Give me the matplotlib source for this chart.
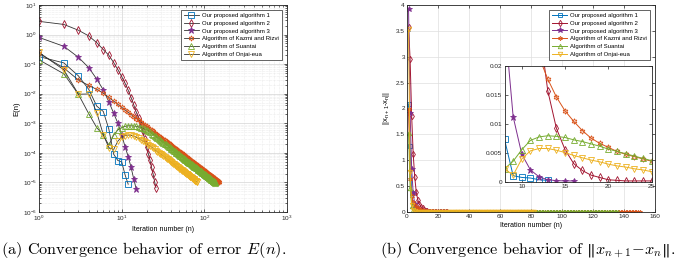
import numpy as np
import matplotlib
matplotlib.use('Agg')
import matplotlib.pyplot as plt
from matplotlib.ticker import FuncFormatter, LogLocator, MultipleLocator

plt.rcParams['font.family'] = ['Liberation Sans', 'DejaVu Sans']
plt.rcParams['mathtext.default'] = 'regular'

labels = ['Our proposed algorithm 1', 'Our proposed algorithm 2', 'Our proposed algorithm 3',
          'Algorithm of Kazmi and Rizvi', 'Algorithm of Suantai', 'Algorithm of Onjai-eua']
colors = ['#0072BD', '#A2142F', '#7E2F8E', '#D95319', '#77AC30', '#EDB120']
markers = ['s', 'd', '*', (6, 1, 0), '^', 'v']

# ---- panel (a): E(n), one value per iteration n = 1, 2, ...
err_alg1 = [0.18, 0.11, 0.040, 0.014, 0.0038, 0.0025, 6.3e-4, 9.0e-5, 5.5e-5, 5.0e-5, 1.8e-5, 8.7e-6]
err_alg2 = [2.8, 2.2, 1.4, 0.9, 0.53, 0.31, 0.2, 0.113, 0.065, 0.038, 0.0226, 0.0131, 0.0074,
            0.0042, 0.0024, 0.0015, 8.6e-4, 5.3e-4, 2.9e-4, 1.6e-4, 9.5e-5, 5.6e-5, 3.2e-5,
            1.95e-5, 1.07e-5, 6.6e-6]
err_alg3 = [0.80, 0.40, 0.17, 0.076, 0.031, 0.0134, 0.0053, 0.0022, 0.0010, 4.1e-4, 1.6e-4,
            7.5e-5, 3.2e-5, 1.3e-5, 6.0e-6]
err_kazmi = [0.23, 0.074, 0.029, 0.019, 0.014, 0.0104, 7.46e-3, 5.60e-3, 4.35e-3, 3.47e-3,
             2.82e-3, 2.34e-3, 1.97e-3, 1.68e-3, 1.45e-3, 1.26e-3, 1.11e-3, 9.8e-4, 8.7e-4, 7.8e-4,
             7.03e-4, 6.37e-4, 5.78e-4, 5.28e-4, 4.84e-4, 4.45e-4, 4.09e-4, 3.79e-4, 3.52e-4, 3.27e-4,
             3.04e-4, 2.84e-4, 2.66e-4, 2.49e-4, 2.34e-4, 2.21e-4, 2.08e-4, 1.96e-4, 1.86e-4, 1.76e-4,
             1.67e-4, 1.58e-4, 1.51e-4, 1.43e-4, 1.37e-4, 1.30e-4, 1.24e-4, 1.19e-4, 1.14e-4, 1.09e-4,
             1.04e-4, 1.00e-4, 9.6e-5, 9.2e-5, 8.9e-5, 8.5e-5, 8.2e-5, 7.9e-5, 7.6e-5, 7.4e-5,
             7.1e-5, 6.9e-5, 6.6e-5, 6.4e-5, 6.2e-5, 6.0e-5, 5.8e-5, 5.6e-5, 5.5e-5, 5.3e-5,
             5.1e-5, 5.0e-5, 4.8e-5, 4.7e-5, 4.6e-5, 4.4e-5, 4.3e-5, 4.2e-5, 4.1e-5, 4.0e-5,
             3.9e-5, 3.8e-5, 3.7e-5, 3.6e-5, 3.5e-5, 3.4e-5, 3.3e-5, 3.2e-5, 3.15e-5, 3.08e-5,
             3.01e-5, 2.94e-5, 2.87e-5, 2.81e-5, 2.74e-5, 2.68e-5, 2.62e-5, 2.56e-5, 2.51e-5, 2.45e-5,
             2.40e-5, 2.35e-5, 2.30e-5, 2.25e-5, 2.21e-5, 2.17e-5, 2.12e-5, 2.08e-5, 2.04e-5, 2.00e-5,
             1.96e-5, 1.92e-5, 1.89e-5, 1.85e-5, 1.82e-5, 1.78e-5, 1.75e-5, 1.72e-5, 1.69e-5, 1.66e-5,
             1.63e-5, 1.60e-5, 1.57e-5, 1.55e-5, 1.52e-5, 1.49e-5, 1.47e-5, 1.45e-5, 1.42e-5, 1.40e-5,
             1.37e-5, 1.35e-5, 1.33e-5, 1.31e-5, 1.29e-5, 1.27e-5, 1.25e-5, 1.23e-5, 1.21e-5, 1.19e-5,
             1.17e-5, 1.16e-5, 1.14e-5, 1.12e-5, 1.10e-5, 1.09e-5, 1.07e-5, 1.06e-5, 1.04e-5, 1.03e-5]
err_suantai = [0.14, 0.047, 0.0095, 0.0021, 7.1e-4, 4.0e-4, 1.8e-4, 4.0e-4, 6.0e-4, 7.2e-4,
               7.9e-4, 8.2e-4, 8.2e-4, 8.1e-4, 7.9e-4, 7.6e-4, 7.2e-4, 6.9e-4, 6.5e-4, 6.1e-4,
               5.5e-4, 5.0e-4, 4.5e-4, 4.1e-4, 3.8e-4, 3.5e-4, 3.2e-4, 3.0e-4, 2.7e-4, 2.55e-4,
               2.37e-4, 2.22e-4, 2.07e-4, 1.94e-4, 1.83e-4, 1.72e-4, 1.62e-4, 1.53e-4, 1.45e-4, 1.37e-4,
               1.30e-4, 1.23e-4, 1.18e-4, 1.12e-4, 1.07e-4, 1.01e-4, 9.7e-5, 9.3e-5, 8.9e-5, 8.5e-5,
               8.1e-5, 7.8e-5, 7.5e-5, 7.2e-5, 6.9e-5, 6.6e-5, 6.4e-5, 6.2e-5, 5.9e-5, 5.8e-5,
               5.5e-5, 5.4e-5, 5.1e-5, 5.0e-5, 4.8e-5, 4.7e-5, 4.5e-5, 4.4e-5, 4.3e-5, 4.1e-5,
               4.0e-5, 3.9e-5, 3.7e-5, 3.7e-5, 3.6e-5, 3.4e-5, 3.4e-5, 3.3e-5, 3.2e-5, 3.1e-5,
               3.0e-5, 3.0e-5, 2.9e-5, 2.8e-5, 2.7e-5, 2.65e-5, 2.6e-5, 2.5e-5, 2.46e-5, 2.40e-5,
               2.35e-5, 2.29e-5, 2.24e-5, 2.19e-5, 2.14e-5, 2.09e-5, 2.04e-5, 2.00e-5, 1.96e-5, 1.91e-5,
               1.87e-5, 1.83e-5, 1.79e-5, 1.76e-5, 1.72e-5, 1.69e-5, 1.65e-5, 1.62e-5, 1.59e-5, 1.56e-5,
               1.53e-5, 1.50e-5, 1.47e-5, 1.44e-5, 1.42e-5, 1.39e-5, 1.37e-5, 1.34e-5, 1.32e-5, 1.29e-5,
               1.27e-5, 1.25e-5, 1.22e-5, 1.21e-5, 1.19e-5, 1.16e-5, 1.15e-5, 1.13e-5, 1.11e-5, 1.09e-5,
               1.07e-5, 1.05e-5, 1.04e-5, 1.02e-5, 1.01e-5, 9.9e-6]
err_onjai = [0.25, 0.064, 0.0096, 0.0098, 0.0023, 4.1e-4, 1.5e-4, 1.3e-4, 2.5e-4, 3.4e-4,
             3.8e-4, 4.0e-4, 3.9e-4, 3.7e-4, 3.4e-4, 3.1e-4, 2.8e-4, 2.5e-4, 2.3e-4, 2.1e-4,
             1.90e-4, 1.72e-4, 1.56e-4, 1.43e-4, 1.31e-4, 1.20e-4, 1.10e-4, 1.02e-4, 9.5e-5, 8.8e-5,
             8.2e-5, 7.7e-5, 7.2e-5, 6.7e-5, 6.3e-5, 6.0e-5, 5.6e-5, 5.3e-5, 5.0e-5, 4.75e-5,
             4.5e-5, 4.3e-5, 4.1e-5, 3.9e-5, 3.7e-5, 3.5e-5, 3.35e-5, 3.2e-5, 3.1e-5, 2.95e-5,
             2.8e-5, 2.7e-5, 2.6e-5, 2.5e-5, 2.4e-5, 2.3e-5, 2.2e-5, 2.13e-5, 2.05e-5, 2.0e-5,
             1.92e-5, 1.86e-5, 1.78e-5, 1.73e-5, 1.67e-5, 1.62e-5, 1.57e-5, 1.51e-5, 1.49e-5, 1.43e-5,
             1.38e-5, 1.35e-5, 1.30e-5, 1.27e-5, 1.24e-5, 1.19e-5, 1.16e-5, 1.13e-5, 1.11e-5, 1.08e-5,
             1.05e-5, 1.03e-5]

# ---- panel (b): ||x_{n+1} - x_n||
dx_alg1 = [2.09, 1.27, 0.36, 0.12, 0.05, 0.022, 0.012, 0.0073, 0.001, 0.0007, 0.0006, 0.0003, 0.0002]
dx_alg2 = [3.58, 2.95, 1.86, 1.12, 0.67, 0.38, 0.23, 0.15, 0.105, 0.068, 0.043, 0.027, 0.0157,
           0.0092, 0.0055, 0.0031, 0.0019, 0.0011, 0.0007, 0.0003, 0.0002, 0.0001, 0.0001, 0.0001,
           0.0001, 0.00005]
dx_alg3 = [3.92, 1.92, 0.84, 0.36, 0.15, 0.08, 0.045, 0.028, 0.0112, 0.0047, 0.002, 0.0008,
           0.0003, 0.00015, 0.0001, 0.0001]
dx_kazmi = [1.99, 0.64, 0.30, 0.19, 0.13, 0.095, 0.071, 0.054, 0.042, 0.033,
            0.027, 0.0215, 0.0177, 0.0146, 0.0122, 0.0104, 0.0088, 0.0075, 0.0066, 0.0059,
            0.0052, 0.0047, 0.0043, 0.0039, 0.0035, 3.2e-3, 3.0e-3, 2.8e-3, 2.6e-3, 2.4e-3,
            2.2e-3, 2.1e-3, 1.9e-3, 1.8e-3, 1.7e-3, 1.6e-3, 1.5e-3, 1.4e-3, 1.4e-3, 1.3e-3,
            1.2e-3, 1.15e-3, 1.1e-3, 1.04e-3, 1.0e-3, 9.5e-4, 9.1e-4, 8.7e-4, 8.3e-4, 8.0e-4,
            7.6e-4, 7.3e-4, 7.0e-4, 6.7e-4, 6.5e-4, 6.2e-4, 6.0e-4, 5.8e-4, 5.5e-4, 5.4e-4,
            5.2e-4, 5.0e-4, 4.8e-4, 4.7e-4, 4.5e-4, 4.4e-4, 4.2e-4, 4.1e-4, 4.0e-4, 3.9e-4,
            3.7e-4, 3.65e-4, 3.5e-4, 3.4e-4, 3.35e-4, 3.2e-4, 3.1e-4, 3.07e-4, 3.0e-4, 2.9e-4,
            2.85e-4, 2.8e-4, 2.7e-4, 2.6e-4, 2.55e-4, 2.5e-4, 2.4e-4, 2.35e-4, 2.3e-4, 2.25e-4,
            2.2e-4, 2.15e-4, 2.1e-4, 2.05e-4, 2.0e-4, 1.96e-4, 1.91e-4, 1.87e-4, 1.83e-4, 1.79e-4,
            1.75e-4, 1.72e-4, 1.68e-4, 1.64e-4, 1.61e-4, 1.58e-4, 1.55e-4, 1.52e-4, 1.49e-4, 1.46e-4,
            1.43e-4, 1.40e-4, 1.38e-4, 1.35e-4, 1.33e-4, 1.30e-4, 1.28e-4, 1.26e-4, 1.23e-4, 1.21e-4,
            1.19e-4, 1.17e-4, 1.15e-4, 1.13e-4, 1.11e-4, 1.09e-4, 1.07e-4, 1.06e-4, 1.04e-4, 1.02e-4,
            1.0e-4, 9.9e-5, 9.7e-5, 9.6e-5, 9.4e-5, 9.3e-5, 9.1e-5, 9.0e-5, 8.8e-5, 8.7e-5,
            8.5e-5, 8.5e-5, 8.3e-5, 8.2e-5, 8.0e-5, 8.0e-5, 7.8e-5, 7.7e-5, 7.6e-5, 7.5e-5]
dx_suantai = [1.53, 0.47, 0.12, 0.035, 0.011, 0.004, 0.0018, 0.0022, 0.0035, 0.0055,
              0.0071, 0.0077, 0.0079, 0.0078, 0.0076, 0.0072, 0.0069, 0.0065, 0.0061, 0.0056,
              0.0052, 0.0048, 0.0044, 0.0040, 0.0036, 3.3e-3, 3.0e-3, 2.85e-3, 2.6e-3, 2.4e-3,
              2.25e-3, 2.1e-3, 2.0e-3, 1.85e-3, 1.74e-3, 1.63e-3, 1.54e-3, 1.45e-3, 1.38e-3, 1.3e-3,
              1.24e-3, 1.17e-3, 1.12e-3, 1.06e-3, 1.02e-3, 9.6e-4, 9.2e-4, 8.8e-4, 8.5e-4, 8.1e-4,
              7.7e-4, 7.4e-4, 7.1e-4, 6.8e-4, 6.6e-4, 6.3e-4, 6.1e-4, 5.9e-4, 5.6e-4, 5.5e-4,
              5.2e-4, 5.1e-4, 4.8e-4, 4.75e-4, 4.6e-4, 4.5e-4, 4.3e-4, 4.2e-4, 4.1e-4, 3.9e-4,
              3.8e-4, 3.7e-4, 3.5e-4, 3.5e-4, 3.4e-4, 3.2e-4, 3.2e-4, 3.1e-4, 3.0e-4, 2.9e-4,
              2.85e-4, 2.85e-4, 2.75e-4, 2.65e-4, 2.55e-4, 2.5e-4, 2.5e-4, 2.4e-4, 2.3e-4, 2.3e-4,
              2.2e-4, 2.2e-4, 2.1e-4, 2.1e-4, 2.0e-4, 2.0e-4, 1.9e-4, 1.9e-4, 1.86e-4, 1.8e-4,
              1.78e-4, 1.74e-4, 1.7e-4, 1.67e-4, 1.63e-4, 1.6e-4, 1.57e-4, 1.54e-4, 1.51e-4, 1.48e-4,
              1.45e-4, 1.43e-4, 1.4e-4, 1.37e-4, 1.35e-4, 1.32e-4, 1.3e-4, 1.27e-4, 1.25e-4, 1.23e-4,
              1.21e-4, 1.19e-4, 1.16e-4, 1.15e-4, 1.13e-4, 1.1e-4, 1.09e-4, 1.07e-4, 1.05e-4, 1.04e-4,
              1.02e-4, 1.0e-4, 9.9e-5, 9.7e-5, 9.6e-5, 9.4e-5]
dx_onjai = [3.53, 0.78, 0.14, 0.04, 0.012, 0.005, 0.003, 0.0022, 0.0011, 0.0039,
            0.0053, 0.0057, 0.0057, 0.0054, 0.0050, 0.0045, 0.0041, 0.0037, 0.0034, 0.0030,
            0.0027, 0.0025, 0.0022, 0.0020, 0.0017, 1.45e-3, 1.32e-3, 1.22e-3, 1.14e-3, 1.06e-3,
            9.8e-4, 9.2e-4, 8.6e-4, 8.0e-4, 7.6e-4, 7.2e-4, 6.7e-4, 6.4e-4, 6.0e-4, 5.7e-4,
            5.4e-4, 5.2e-4, 4.9e-4, 4.7e-4, 4.4e-4, 4.2e-4, 4.0e-4, 3.8e-4, 3.7e-4, 3.5e-4,
            3.4e-4, 3.2e-4, 3.1e-4, 3.0e-4, 2.9e-4, 2.8e-4, 2.6e-4, 2.6e-4, 2.5e-4, 2.4e-4,
            2.3e-4, 2.2e-4, 2.1e-4, 2.1e-4, 2.0e-4, 1.9e-4, 1.9e-4, 1.8e-4, 1.8e-4, 1.7e-4,
            1.66e-4, 1.62e-4, 1.56e-4, 1.52e-4, 1.49e-4, 1.43e-4, 1.39e-4, 1.36e-4, 1.33e-4, 1.3e-4,
            1.26e-4, 1.24e-4]

err_series = [err_alg1, err_alg2, err_alg3, err_kazmi, err_suantai, err_onjai]
dx_series = [dx_alg1, dx_alg2, dx_alg3, dx_kazmi, dx_suantai, dx_onjai]

caption_a = r'(a) Convergence behavior of error $\mathit{E}(\mathit{n})$.'
caption_b = r'(b) Convergence behavior of $\Vert \mathit{x}_{\mathit{n}+1}\!-\!\mathit{x}_{\mathit{n}}\Vert$.'

W, H = 685, 272
fig = plt.figure(figsize=(W / 100, H / 100), dpi=100)


def px_axes(x0, y0, x1, y1):
    return fig.add_axes([x0 / W, 1 - y1 / H, (x1 - x0) / W, (y1 - y0) / H])


def style(ax, fs=4.6):
    for s in ax.spines.values():
        s.set_linewidth(0.6)
        s.set_color('#262626')
    ax.tick_params(which='both', direction='in', top=True, right=True, labelsize=fs,
                   width=0.5, pad=1.5, colors='#262626')
    ax.tick_params(which='major', length=2.2)
    ax.tick_params(which='minor', length=1.2)


def msize(m, base):
    return base + 1.0 if m == '*' else base


# ---------- (a)
ax1 = px_axes(39, 5, 287, 212)
for vals, c, m in zip(err_series, colors, markers):
    n = np.arange(1, len(vals) + 1)
    ax1.plot(n, vals, color='#333333', lw=0.6, marker=m, ms=msize(m, 3.8),
             mec=c, mfc=c if m == '*' else 'none', mew=0.6)
ax1.set_xscale('log')
ax1.set_yscale('log')
ax1.set_xlim(1, 1000)
ax1.set_ylim(1e-6, 10)
ax1.yaxis.set_major_locator(LogLocator(base=10, numticks=10))
ax1.yaxis.set_minor_locator(LogLocator(base=10, subs=np.arange(2, 10), numticks=20))
ax1.grid(True, which='major', color='#d4d4d4', lw=0.5)
ax1.grid(True, which='minor', color='#dcdcdc', lw=0.4, ls=(0, (1, 1.5)))
ax1.set_axisbelow(True)
style(ax1)
ax1.set_xlabel('Iteration number (n)', fontsize=5, labelpad=2)
ax1.set_ylabel('E(n)', fontsize=5.5, labelpad=2)
hl = [plt.Line2D([], [], color='#333333', lw=0.6, marker=m, ms=msize(m, 3.8), mec=c,
                 mfc=c if m == '*' else 'none', mew=0.6) for c, m in zip(colors, markers)]
leg = ax1.legend(hl, labels, loc='upper right', bbox_to_anchor=(0.979, 0.976), fontsize=4.3,
                 frameon=True, fancybox=False, edgecolor='#262626', framealpha=1,
                 handlelength=2.6, labelspacing=0.45, borderpad=0.45, handletextpad=0.5,
                 borderaxespad=0)
leg.get_frame().set_linewidth(0.5)

# ---------- (b)
ax2 = px_axes(407, 5, 655, 212)
for vals, c, m in zip(dx_series, colors, markers):
    n = np.arange(1, len(vals) + 1)
    ax2.plot(n, vals, color=c, lw=0.7, marker=m, ms=msize(m, 3.2),
             mec=c, mfc=c if m == '*' else 'none', mew=0.6)
ax2.set_xlim(0, 160)
ax2.set_ylim(0, 4)
ax2.xaxis.set_major_locator(MultipleLocator(20))
ax2.yaxis.set_major_locator(MultipleLocator(0.5))
ax2.yaxis.set_major_formatter(FuncFormatter(lambda v, p: f'{v:g}'))
ax2.grid(True, which='major', color='#dedede', lw=0.5)
ax2.set_axisbelow(True)
style(ax2)
ax2.set_xlabel('Iteration number (n)', fontsize=5, labelpad=2)
ax2.set_ylabel(r'$||x_{n+1}$-$x_{n}||$', fontsize=5.5, labelpad=3)
hl2 = [plt.Line2D([], [], color=c, lw=0.7, marker=m, ms=msize(m, 3.2), mec=c,
                  mfc=c if m == '*' else 'none', mew=0.6) for c, m in zip(colors, markers)]
leg2 = ax2.legend(hl2, labels, loc='upper right', bbox_to_anchor=(0.98, 0.976), fontsize=4.3,
                  frameon=True, fancybox=False, edgecolor='#262626', framealpha=1,
                  handlelength=2.6, labelspacing=0.45, borderpad=0.45, handletextpad=0.5,
                  borderaxespad=0)
leg2.get_frame().set_linewidth(0.5)

# inset
ax3 = px_axes(504.5, 65.7, 651.5, 181.5)
for vals, c, m in zip(dx_series, colors, markers):
    n = np.arange(1, len(vals) + 1)
    ax3.plot(n, vals, color=c, lw=0.7, marker=m, ms=msize(m, 4.0),
             mec=c, mfc=c if m == '*' else 'none', mew=0.6)
ax3.set_xlim(8, 25)
ax3.set_ylim(0, 0.02)
ax3.xaxis.set_major_locator(MultipleLocator(5))
ax3.yaxis.set_major_locator(MultipleLocator(0.005))
ax3.yaxis.set_major_formatter(FuncFormatter(lambda v, p: f'{v:g}'))
ax3.set_facecolor('white')
style(ax3)

# captions
for x0, txt in [(1, caption_a), (380, caption_b)]:
    fig.text(x0 / W, 1 - 250 / H, txt, fontsize=11.7, family='cmr10', va='center', ha='left',
             math_fontfamily='cm')

fig.savefig('out.png', dpi=100)
